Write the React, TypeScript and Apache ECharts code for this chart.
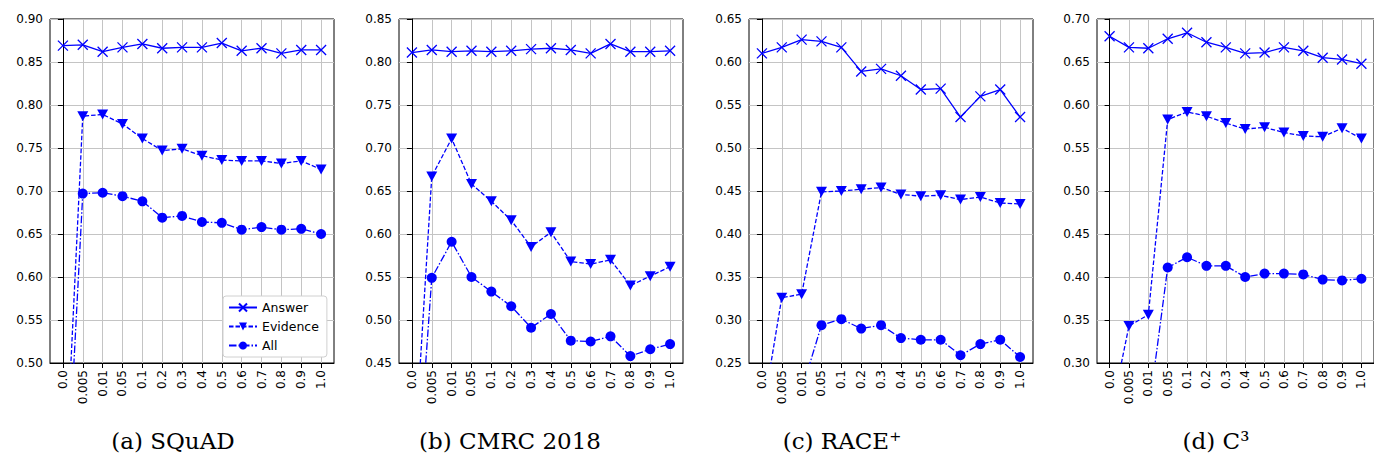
import React, { useEffect, useRef } from "react";
import * as echarts from "echarts";

const CATS = ["0.0", "0.005", "0.01", "0.05", "0.1", "0.2", "0.3", "0.4", "0.5", "0.6", "0.7", "0.8", "0.9", "1.0"];

const answerA = [0.869, 0.870, 0.862, 0.867, 0.871, 0.866, 0.867, 0.867, 0.872, 0.863, 0.866, 0.860, 0.864, 0.864];
const evidenceA = [0.306, 0.787, 0.789, 0.778, 0.761, 0.747, 0.749, 0.741, 0.736, 0.735, 0.735, 0.732, 0.735, 0.725];
const allA = [0.255, 0.697, 0.698, 0.694, 0.688, 0.669, 0.671, 0.664, 0.663, 0.655, 0.658, 0.655, 0.656, 0.650];

const answerB = [0.811, 0.814, 0.812, 0.813, 0.812, 0.813, 0.815, 0.816, 0.814, 0.810, 0.821, 0.812, 0.812, 0.813];
const evidenceB = [0.291, 0.667, 0.711, 0.658, 0.638, 0.616, 0.585, 0.602, 0.568, 0.565, 0.570, 0.540, 0.551, 0.562];
const allB = [0.224, 0.549, 0.591, 0.550, 0.533, 0.516, 0.491, 0.507, 0.476, 0.475, 0.481, 0.458, 0.466, 0.472];

const answerC = [0.610, 0.617, 0.626, 0.624, 0.617, 0.589, 0.592, 0.584, 0.568, 0.569, 0.536, 0.560, 0.568, 0.536];
const evidenceC = [0.186, 0.326, 0.330, 0.449, 0.450, 0.452, 0.454, 0.446, 0.444, 0.445, 0.440, 0.443, 0.436, 0.435];
const allC = [0.120, 0.190, 0.218, 0.294, 0.301, 0.290, 0.294, 0.279, 0.277, 0.277, 0.259, 0.272, 0.277, 0.257];

const answerD = [0.680, 0.667, 0.666, 0.677, 0.684, 0.673, 0.667, 0.660, 0.661, 0.667, 0.663, 0.655, 0.653, 0.648];
const evidenceD = [0.233, 0.343, 0.356, 0.583, 0.592, 0.587, 0.579, 0.572, 0.574, 0.568, 0.564, 0.563, 0.573, 0.561];
const allD = [0.150, 0.200, 0.240, 0.411, 0.423, 0.413, 0.413, 0.400, 0.404, 0.404, 0.403, 0.397, 0.396, 0.398];

const Y_MIN = [0.5, 0.45, 0.25, 0.3];
const Y_MAX = [0.9, 0.85, 0.65, 0.7];
const CAPTIONS = ["(a) SQuAD", "(b) CMRC 2018", "(c) RACE\u207A", "(d) C\u00B3"];

const PANELS = [
  { answer: answerA, evidence: evidenceA, all: allA },
  { answer: answerB, evidence: evidenceB, all: allB },
  { answer: answerC, evidence: evidenceC, all: allC },
  { answer: answerD, evidence: evidenceD, all: allD },
];

const GRID_LEFT = [50, 399, 749, 1097];
const CAPTION_X = [173, 510, 842, 1216];
const GRID_W = 284;
const GRID_TOP = 19;
const GRID_H = 344;
const BLUE = "#0000ff";
const FONT = "DejaVu Sans";

export default function App() {
  const ref = useRef<HTMLDivElement>(null);
  useEffect(() => {
    if (!ref.current) return;
    const chart = echarts.init(ref.current, undefined, { renderer: "svg" });
    const idx = CATS.map((_, i) => i);
    const grids: any[] = [];
    const xAxes: any[] = [];
    const yAxes: any[] = [];
    const series: any[] = [];
    PANELS.forEach((p, k) => {
      grids.push({
        left: GRID_LEFT[k],
        top: GRID_TOP,
        width: GRID_W,
        height: GRID_H,
        show: true,
        borderColor: "#000",
        borderWidth: 1,
        backgroundColor: "transparent",
      });
      xAxes.push({
        type: "value",
        gridIndex: k,
        min: -0.65,
        max: 13.65,
        axisLine: { show: true, onZero: false, lineStyle: { color: "#000", width: 1 } },
        axisTick: { show: true, length: 5, lineStyle: { color: "#000" }, customValues: idx },
        axisLabel: {
          show: true,
          rotate: 90,
          margin: 7,
          color: "#000",
          fontSize: 12,
          fontFamily: FONT,
          customValues: idx,
          formatter: (v: number) => CATS[Math.round(v)] ?? "",
        },
        splitLine: { show: true, lineStyle: { color: "#c4c4c4", width: 1 } },
      });
      yAxes.push({
        type: "value",
        gridIndex: k,
        min: Y_MIN[k],
        max: Y_MAX[k],
        interval: 0.05,
        axisLine: { show: true, lineStyle: { color: "#000", width: 1 } },
        axisTick: { show: true, length: 5, lineStyle: { color: "#000" } },
        axisLabel: {
          color: "#000",
          fontSize: 12,
          fontFamily: FONT,
          margin: 7,
          formatter: (v: number) => v.toFixed(2),
        },
        splitLine: { show: true, lineStyle: { color: "#c4c4c4", width: 1 } },
      });
      const mk = (arr: number[]) => arr.map((v, i) => [i, v]);
      series.push({
        name: "Answer",
        type: "line",
        xAxisIndex: k,
        yAxisIndex: k,
        data: mk(p.answer),
        symbol: "path://M0,0L10,10M10,0L0,10",
        symbolSize: 10,
        itemStyle: { color: BLUE, borderColor: BLUE, borderWidth: 1.3 },
        lineStyle: { color: BLUE, width: 1.3, type: "solid" },
        clip: true,
        z: 3,
      });
      series.push({
        name: "Evidence",
        type: "line",
        xAxisIndex: k,
        yAxisIndex: k,
        data: mk(p.evidence),
        symbol: "triangle",
        symbolRotate: 180,
        symbolSize: [11, 10],
        itemStyle: { color: BLUE, borderWidth: 0 },
        lineStyle: { color: BLUE, width: 1.3, type: [4.5, 2] },
        clip: true,
        z: 3,
      });
      series.push({
        name: "All",
        type: "line",
        xAxisIndex: k,
        yAxisIndex: k,
        data: mk(p.all),
        symbol: "circle",
        symbolSize: 10,
        itemStyle: { color: BLUE, borderWidth: 0 },
        lineStyle: { color: BLUE, width: 1.3, type: [7.5, 2, 1.5, 2] },
        clip: true,
        z: 3,
      });
    });

    const graphics = CAPTIONS.map((c, k) => ({
      type: "text",
      x: CAPTION_X[k],
      y: 441,
      style: {
        text: c,
        fill: "#000",
        font: "23px 'DejaVu Serif'",
        textAlign: "center",
        textVerticalAlign: "middle",
      },
    }));

    chart.setOption({
      animation: false,
      backgroundColor: "#fff",
      grid: grids,
      xAxis: xAxes,
      yAxis: yAxes,
      series,
      legend: {
        data: ["Answer", "Evidence", "All"],
        orient: "vertical",
        left: 223,
        top: 296,
        itemWidth: 28,
        itemHeight: 10,
        itemGap: 6,
        padding: [5, 8, 5, 5],
        backgroundColor: "#fff",
        borderColor: "#d0d0d0",
        borderWidth: 1,
        borderRadius: 3,
        selectedMode: false,
        textStyle: { color: "#000", fontSize: 12.5, fontFamily: FONT },
      },
      graphic: graphics,
    });
    return () => chart.dispose();
  }, []);
  return (
    <div
      ref={ref}
      style={{ position: "absolute", left: 0, top: 0, width: 1374, height: 458, background: "#fff" }}
    />
  );
}
